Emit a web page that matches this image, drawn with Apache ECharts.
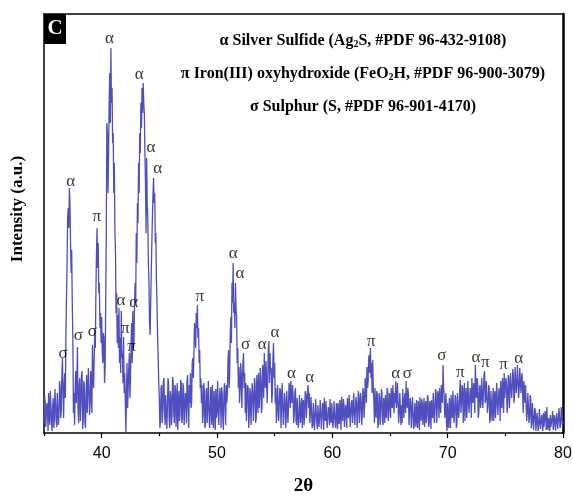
<!DOCTYPE html>
<html><head><meta charset="utf-8">
<script src="https://cdn.jsdelivr.net/npm/echarts@6/dist/echarts.min.js"></script>
<style>html,body{margin:0;padding:0;background:#fff}#c{width:573px;height:497px}</style>
</head><body><div id="c"></div>
<script>
// 2θ sampling grid of the scan
const twoThetaStart = 35;
const twoThetaStep = 0.05;

// Intensity (a.u.), 0.05° apart, one array per 5° block
const i35 = [
  10, 38, 32, 6, 4, 30, 24, 2, 40, 18, 8, 42, 28, 10, 2, 26, 35, 5, 14, 44,
  30, 12, 6, 40, 38, 8, 18, 52, 46, 15, 22, 60, 75, 40, 15, 48, 60, 35, 100, 135,
  170, 215, 225, 205, 245, 230, 190, 160, 183, 130, 96, 20, 40, 8, 45, 62, 30, 50, 86, 25,
  10, 48, 55, 12, 30, 58, 62, 4, 12, 52, 48, 10, 5, 40, 58, 20, 22, 65, 66, 18,
  30, 62, 40, 20, 88, 60, 45, 75, 100, 85, 140, 180, 205, 165, 190, 140, 150, 105, 120, 90
];
const i40 = [
  116, 80, 70, 100, 95, 50, 65, 130, 200, 310, 300, 240, 280, 330, 360, 310, 385, 330, 345, 290,
  300, 240, 270, 200, 180, 120, 140, 90, 118, 85, 125, 70, 95, 60, 122, 75, 80, 50, 96, 40,
  60, 30, 0, 40, 70, 25, 45, 65, 80, 35, 55, 90, 110, 70, 122, 85, 90, 130, 150, 130,
  200, 170, 230, 210, 270, 240, 300, 280, 330, 305, 345, 320, 350, 330, 320, 280, 250, 200, 275, 230,
  215, 170, 150, 110, 98, 130, 160, 190, 215, 240, 255, 230, 240, 190, 200, 150, 130, 95, 75, 50
];
const i45 = [
  35, 5, 12, 45, 48, 10, 20, 52, 55, 22, 8, 38, 40, 4, 25, 55, 50, 15, 5, 42,
  38, 8, 18, 56, 52, 20, 10, 48, 45, 6, 28, 50, 3, 30, 42, 12, 20, 53, 50, 10,
  15, 50, 44, 8, 6, 40, 35, 10, 52, 58, 22, 5, 48, 30, 60, 25, 30, 70, 75, 55,
  80, 110, 100, 85, 120, 105, 128, 95, 105, 70, 83, 45, 55, 30, 48, 10, 18, 50, 42, 5,
  8, 40, 45, 10, 25, 52, 50, 5, 12, 46, 38, 8, 48, 20, 5, 42, 30, 3, 44, 15
];
const i50 = [
  20, 52, 50, 8, 10, 45, 35, 5, 46, 40, 15, 3, 40, 50, 28, 8, 48, 30, 40, 70,
  83, 45, 60, 100, 116, 90, 150, 130, 170, 120, 130, 105, 150, 125, 116, 70, 85, 45, 66, 30,
  43, 70, 60, 25, 50, 70, 80, 45, 60, 20, 50, 12, 30, 48, 45, 5, 17, 45, 40, 8,
  10, 50, 42, 12, 28, 55, 50, 10, 15, 58, 45, 20, 60, 25, 35, 65, 55, 20, 25, 68,
  62, 35, 80, 50, 45, 72, 70, 30, 55, 85, 92, 50, 80, 60, 65, 30, 40, 75, 90, 55
];
const i55 = [
  70, 30, 45, 10, 20, 48, 50, 12, 10, 45, 42, 5, 30, 50, 48, 8, 22, 40, 35, 5,
  15, 42, 40, 10, 28, 50, 45, 25, 52, 35, 30, 48, 38, 10, 20, 40, 45, 12, 8, 35,
  35, 5, 12, 38, 40, 10, 28, 35, 5, 30, 33, 8, 20, 42, 38, 15, 30, 44, 48, 25,
  40, 10, 22, 36, 35, 5, 8, 30, 30, 3, 15, 34, 36, 10, 4, 28, 28, 6, 18, 33,
  32, 4, 6, 30, 25, 3, 35, 15, 12, 32, 30, 5, 3, 26, 22, 8, 34, 14, 10, 30
];
const i60 = [
  28, 5, 14, 32, 34, 8, 5, 30, 26, 4, 30, 12, 9, 33, 24, 3, 36, 18, 12, 34,
  30, 6, 4, 28, 22, 5, 35, 20, 15, 38, 28, 6, 8, 30, 33, 10, 20, 40, 38, 8,
  10, 36, 30, 5, 18, 42, 38, 10, 12, 40, 32, 8, 20, 45, 42, 15, 28, 55, 46, 30,
  66, 45, 50, 75, 78, 60, 85, 55, 70, 40, 73, 45, 33, 10, 45, 20, 15, 42, 38, 5,
  10, 40, 35, 8, 22, 44, 40, 12, 8, 35, 30, 10, 38, 18, 15, 45, 42, 12, 20, 40
];
const i65 = [
  35, 15, 45, 30, 25, 48, 50, 20, 40, 30, 52, 25, 30, 50, 48, 10, 20, 40, 38, 8,
  28, 10, 44, 30, 15, 35, 40, 20, 52, 30, 25, 45, 38, 8, 10, 35, 30, 5, 20, 36,
  35, 4, 8, 30, 28, 6, 33, 15, 5, 32, 25, 3, 36, 20, 12, 34, 30, 8, 22, 35,
  6, 25, 32, 10, 18, 38, 35, 6, 10, 32, 28, 4, 33, 20, 15, 40, 38, 10, 25, 44,
  40, 10, 12, 42, 35, 15, 45, 30, 20, 48, 50, 30, 68, 45, 38, 15, 25, 40, 10, 2
];
const i70 = [
  30, 8, 5, 35, 25, 5, 38, 22, 15, 42, 40, 10, 20, 38, 35, 5, 8, 40, 42, 15,
  25, 45, 53, 20, 30, 48, 45, 10, 35, 50, 12, 35, 45, 15, 28, 52, 50, 20, 18, 45,
  40, 15, 55, 35, 30, 50, 45, 20, 68, 40, 35, 55, 50, 15, 20, 45, 48, 25, 30, 55,
  55, 25, 40, 58, 62, 30, 35, 52, 50, 20, 28, 48, 45, 10, 15, 42, 40, 12, 30, 45,
  12, 35, 42, 15, 30, 50, 48, 18, 20, 45, 38, 12, 52, 30, 25, 55, 45, 20, 60, 35
];
const i75 = [
  35, 55, 48, 20, 30, 58, 55, 25, 40, 60, 62, 35, 45, 64, 58, 30, 38, 66, 66, 40,
  50, 68, 67, 35, 45, 65, 66, 40, 55, 60, 40, 20, 52, 45, 30, 48, 48, 12, 20, 40,
  42, 10, 15, 38, 35, 5, 10, 30, 28, 3, 5, 25, 22, 2, 3, 20, 18, 2, 8, 24,
  25, 4, 2, 18, 12, 2, 20, 6, 4, 22, 15, 3, 26, 8, 3, 15, 10, 2, 18, 6,
  5, 15, 22, 3, 8, 18, 14, 2, 2, 20, 20, 4, 6, 25, 27, 5, 10, 26, 24, 8
];
const i80 = [12];

// Axis ticks
const xMajorTicks = [40, 50, 60, 70, 80];
const xMinorTicks = [35, 45, 55, 65, 75];

// Phase markers: [2θ, intensity, phase symbol]
const peakLabels = [
  [40.68, 394.7, 'α'], [43.26, 358, 'α'], [44.28, 285.3, 'α'], [44.85, 264, 'α'],
  [37.32, 251.3, 'α'], [39.58, 216.7, 'π'], [41.67, 132.7, 'α'], [42.77, 130.3, 'α'],
  [42.04, 104, 'π'], [42.59, 86.3, 'π'], [36.65, 79.7, 'σ'], [37.98, 97.3, 'σ'],
  [39.2, 101.3, 'σ'], [48.5, 136.3, 'π'], [51.41, 179.7, 'α'], [51.98, 159, 'α'],
  [52.48, 88, 'σ'], [53.93, 88, 'α'], [55.03, 100.3, 'α'], [56.45, 59.7, 'α'],
  [58.04, 55.7, 'α'], [63.35, 91.3, 'π'], [65.5, 59, 'α'], [66.5, 59.7, 'σ'],
  [69.5, 77, 'σ'], [71.09, 60.7, 'π'], [72.45, 75.7, 'α'], [73.26, 70.3, 'π'],
  [74.85, 68.7, 'π'], [76.16, 74.7, 'α']
];

// Phase legend lines
const legendLines = [
  'α Silver Sulfide (Ag{s|2}S, #PDF 96-432-9108)',
  'π Iron(III) oxyhydroxide (FeO{s|2}H, #PDF 96-900-3079)',
  'σ Sulphur (S, #PDF 96-901-4170)'
];

const intensity = [].concat(i35, i40, i45, i50, i55, i60, i65, i70, i75, i80);
const lineData = intensity.map((v, i) => [+(twoThetaStart + i * twoThetaStep).toFixed(2), v]);

const serif = '"Liberation Serif", "Times New Roman", serif';
const chart = echarts.init(document.getElementById('c'), null, {renderer: 'canvas'});

const legendY = [41, 74, 107];
const graphics = legendLines.map((t, k) => ({
  type: 'text',
  x: 363, y: legendY[k],
  style: {
    text: t,
    font: 'bold 16px ' + serif,
    fill: '#000',
    align: 'center',
    verticalAlign: 'middle',
    rich: { s: { font: 'bold 10px ' + serif, verticalAlign: 'bottom', lineHeight: 10 } }
  }
}));
graphics.push({
  type: 'rect', shape: {x: 44, y: 14, width: 22, height: 30}, style: {fill: '#000'}
});
graphics.push({
  type: 'text', x: 55, y: 29,
  style: {text: 'C', font: 'bold 21px ' + serif, fill: '#fff', align: 'center', verticalAlign: 'middle'}
});
graphics.push({
  type: 'text', x: 18, y: 209, rotation: Math.PI / 2,
  style: {text: 'Intensity (a.u.)', font: 'bold 17px ' + serif, fill: '#000', align: 'center', verticalAlign: 'middle'}
});

chart.setOption({
  animation: false,
  backgroundColor: '#fff',
  grid: {left: 44, right: 10, top: 14, bottom: 64, containLabel: false, outerBoundsMode: 'none'},
  xAxis: [
    {
      type: 'value', min: 35, max: 80, position: 'bottom',
      axisLine: {show: true, onZero: false, lineStyle: {color: '#000', width: 1.5}},
      axisTick: {show: true, customValues: xMajorTicks, length: 5, inside: false, lineStyle: {color: '#000', width: 1.2}},
      axisLabel: {show: true, customValues: xMajorTicks, fontSize: 16, color: '#000', margin: 13, fontFamily: '"Liberation Sans", Arial, sans-serif'},
      splitLine: {show: false},
      name: '2θ', nameLocation: 'middle', nameGap: 44,
      nameTextStyle: {fontFamily: serif, fontWeight: 'bold', fontSize: 19, color: '#000'}
    },
    {
      type: 'value', min: 35, max: 80, position: 'bottom',
      axisLine: {show: false, onZero: false},
      axisTick: {show: true, customValues: xMinorTicks, length: 3, inside: false, lineStyle: {color: '#000', width: 1.2}},
      axisLabel: {show: false},
      splitLine: {show: false}
    },
    {
      type: 'value', min: 35, max: 80, position: 'top',
      axisLine: {show: true, onZero: false, lineStyle: {color: '#000', width: 1.5}},
      axisTick: {show: false}, axisLabel: {show: false}, splitLine: {show: false}
    }
  ],
  yAxis: [
    {
      type: 'value', min: 0, max: 419, position: 'left',
      axisLine: {show: true, onZero: false, lineStyle: {color: '#000', width: 1.5}},
      axisTick: {show: false}, axisLabel: {show: false}, splitLine: {show: false}
    },
    {
      type: 'value', min: 0, max: 419, position: 'right',
      axisLine: {show: true, onZero: false, lineStyle: {color: '#000', width: 2.5}},
      axisTick: {show: false}, axisLabel: {show: false}, splitLine: {show: false}
    }
  ],
  series: [
    {
      type: 'line', xAxisIndex: 0, yAxisIndex: 0,
      data: lineData, showSymbol: false, symbol: 'none', clip: true,
      lineStyle: {color: '#4f4fc0', width: 1.3},
      z: 2
    },
    {
      type: 'scatter', xAxisIndex: 0, yAxisIndex: 0,
      data: peakLabels.map(d => ({value: [d[0], d[1]], name: d[2]})),
      symbolSize: 1, itemStyle: {color: 'rgba(0,0,0,0)'},
      label: {show: true, position: 'inside', formatter: '{b}', fontFamily: serif, fontSize: 17, color: '#000'},
      z: 3, silent: true
    }
  ],
  graphic: graphics
});
</script>
</body></html>
